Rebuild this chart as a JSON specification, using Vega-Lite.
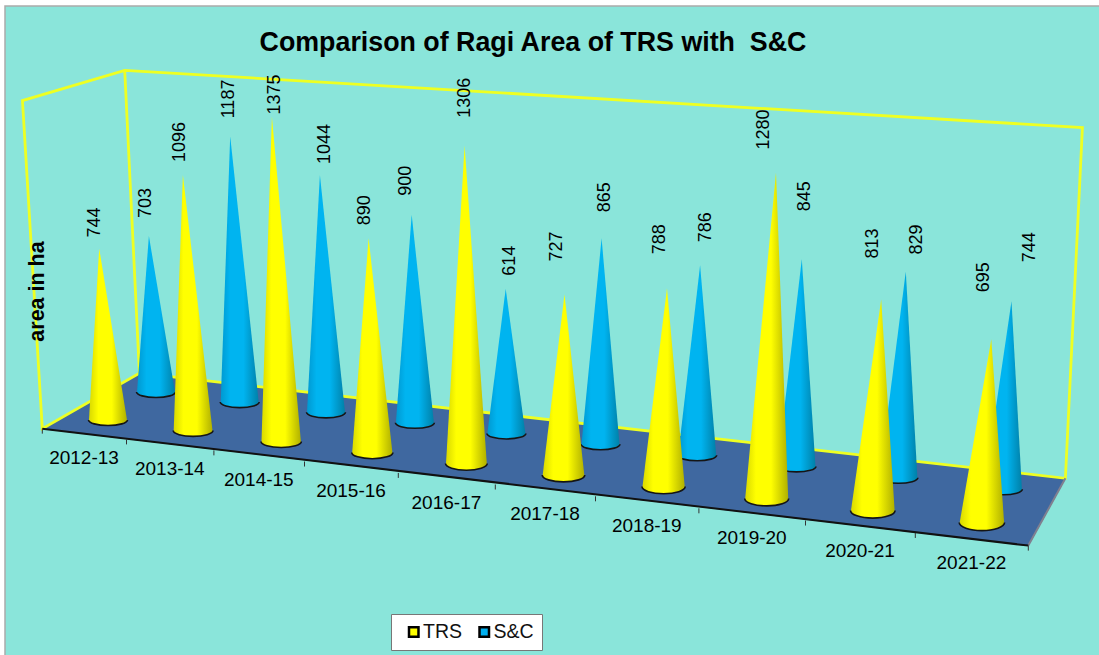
{
"$schema":"https://vega.github.io/schema/vega-lite/v6.json",
"width":1100,"height":655,"autosize":"none","padding":{"left":5,"top":6,"right":0,"bottom":0},
"background":"white",
"view":{"fill":"#8AE5DA","stroke":"#aaaaaa","strokeWidth":1.5},
"config":{"font":"Liberation Sans","axisY":{"domain":false,"ticks":false,"labels":false,"grid":false}},
"title":{"text":"Comparison of Ragi Area of TRS with\u00a0 S&C","anchor":"middle","frame":"group","dx":-22,"orient":"top","offset":-72,"baseline":"alphabetic","fontSize":26.8,"fontWeight":"bold","color":"black","font":"Liberation Sans"},
"datasets":{
"cones":[
{"year":"2012-13","series":"TRS","area":744},{"year":"2013-14","series":"TRS","area":1096},{"year":"2014-15","series":"TRS","area":1375},{"year":"2015-16","series":"TRS","area":890},{"year":"2016-17","series":"TRS","area":1306},{"year":"2017-18","series":"TRS","area":727},{"year":"2018-19","series":"TRS","area":788},{"year":"2019-20","series":"TRS","area":1280},{"year":"2020-21","series":"TRS","area":813},{"year":"2021-22","series":"TRS","area":695},
{"year":"2012-13","series":"S&C","area":703},{"year":"2013-14","series":"S&C","area":1187},{"year":"2014-15","series":"S&C","area":1044},{"year":"2015-16","series":"S&C","area":900},{"year":"2016-17","series":"S&C","area":614},{"year":"2017-18","series":"S&C","area":865},{"year":"2018-19","series":"S&C","area":786},{"year":"2019-20","series":"S&C","area":845},{"year":"2020-21","series":"S&C","area":829},{"year":"2021-22","series":"S&C","area":744}
],
"frame":[
{"part":"floor","n":0,"i":-0.5,"d":-0.5,"h":0},{"part":"floor","n":1,"i":9.5,"d":-0.5,"h":0},{"part":"floor","n":2,"i":9.5,"d":1.5,"h":0},{"part":"floor","n":3,"i":-0.5,"d":1.5,"h":0},
{"part":"wall","n":0,"i":-0.5,"d":1.5,"h":1422},{"part":"wall","n":1,"i":-0.5,"d":1.5,"h":0},{"part":"wall","n":2,"i":-0.5,"d":-0.5,"h":0},{"part":"wall","n":3,"i":-0.5,"d":-0.5,"h":1422},{"part":"wall","n":4,"i":-0.5,"d":1.5,"h":1422},{"part":"wall","n":5,"i":9.5,"d":1.5,"h":1422},{"part":"wall","n":6,"i":9.5,"d":1.5,"h":0},{"part":"wall","n":7,"i":-0.5,"d":1.5,"h":0},
{"part":"front","n":0,"i":-0.5,"d":-0.5,"h":0},{"part":"front","n":1,"i":9.5,"d":-0.5,"h":0},
{"part":"side","n":0,"i":9.5,"d":-0.5,"h":0},{"part":"side","n":1,"i":9.5,"d":1.5,"h":0},
{"part":"tick","n":0,"i":-0.5,"d":-0.5,"h":0},{"part":"tick","n":1,"i":0.5,"d":-0.5,"h":0},{"part":"tick","n":2,"i":1.5,"d":-0.5,"h":0},{"part":"tick","n":3,"i":2.5,"d":-0.5,"h":0},{"part":"tick","n":4,"i":3.5,"d":-0.5,"h":0},{"part":"tick","n":5,"i":4.5,"d":-0.5,"h":0},{"part":"tick","n":6,"i":5.5,"d":-0.5,"h":0},{"part":"tick","n":7,"i":6.5,"d":-0.5,"h":0},{"part":"tick","n":8,"i":7.5,"d":-0.5,"h":0},{"part":"tick","n":9,"i":8.5,"d":-0.5,"h":0},{"part":"tick","n":10,"i":9.5,"d":-0.5,"h":0}
]
},
"encoding":{
"x":{"field":"X","type":"quantitative","scale":{"domain":[5,1105],"nice":false,"zero":false},"axis":null},
"y":{"field":"Y","type":"quantitative","scale":{"domain":[661,6],"nice":false,"zero":false},"axis":{"title":"area in ha","zindex":1,"titleX":32,"titleY":285,"titleAngle":270,"titleFontSize":21.5,"titleFontWeight":"bold","titleColor":"black","titleAlign":"center","titleBaseline":"middle"}}
},
"layer":[
{"data":{"name":"frame"},
"transform":[
{"calculate":"108+48*datum.d+(83.6-1.2*datum.d)*datum.i+(1.5-0.2*datum.d)*datum.i*datum.i","as":"X0"},
{"calculate":"420-28*datum.d+(10.5-0.5*datum.d)*datum.i+(0.1-0.01*datum.d)*datum.i*datum.i","as":"Y0"},
{"calculate":"(0.219+(datum.Y0-392)*0.00032)*datum.h","as":"px"},
{"calculate":"datum.X0+(datum.i-4.5)*(0.0115-0.0012*datum.d)*datum.px","as":"X"},
{"calculate":"datum.Y0-datum.px","as":"Y"},
{"calculate":"datum.Y0+5","as":"Yt"}],
"layer":[
{"transform":[{"filter":"datum.part=='floor'"}],"mark":{"type":"line","fill":"#3F68A0","stroke":"#3F68A0","strokeWidth":1},"encoding":{"order":{"field":"n"}}},
{"transform":[{"filter":"datum.part=='wall'"}],"mark":{"type":"line","stroke":"#EEFF22","strokeWidth":2.8,"strokeJoin":"miter"},"encoding":{"order":{"field":"n"}}},
{"transform":[{"filter":"datum.part=='side'"}],"mark":{"type":"line","stroke":"#808090","strokeWidth":2},"encoding":{"order":{"field":"n"}}},
{"transform":[{"filter":"datum.part=='front'"}],"mark":{"type":"line","stroke":"#111111","strokeWidth":2},"encoding":{"order":{"field":"n"}}},
{"transform":[{"filter":"datum.part=='tick'"}],"mark":{"type":"rule","stroke":"#333333","strokeWidth":1},"encoding":{"y2":{"field":"Yt"}}}
]},
{"data":{"name":"cones"},
"transform":[
{"calculate":"indexof(['2012-13','2013-14','2014-15','2015-16','2016-17','2017-18','2018-19','2019-20','2020-21','2021-22'],datum.year)","as":"i"},
{"calculate":"datum.series=='TRS'?0:1","as":"d"},
{"calculate":"108+48*datum.d+(83.6-1.2*datum.d)*datum.i+(1.5-0.2*datum.d)*datum.i*datum.i","as":"X0"},
{"calculate":"420-28*datum.d+(10.5-0.5*datum.d)*datum.i+(0.1-0.01*datum.d)*datum.i*datum.i","as":"Y0"},
{"calculate":"(0.219+(datum.Y0-392)*0.00032)*datum.area","as":"px"},
{"calculate":"datum.X0+(datum.i-4.5)*(0.0115-0.0012*datum.d)*datum.px","as":"X"},
{"calculate":"datum.Y0-datum.px","as":"Y"},
{"calculate":"round(190+(1-datum.d)*datum.i*3.5)/10","as":"w"},
{"calculate":"round(55+(1-datum.d)*datum.i*2.8)/10","as":"e"},
{"calculate":"'M'+(-datum.w)+',0L'+round((datum.X-datum.X0)*10)/10+','+round((-datum.px-2)*10)/10+'L'+datum.w+',0A'+datum.w+','+datum.e+' 0 0 1 '+(-datum.w)+',0Z'","as":"conePath"},
{"calculate":"'M'+(-datum.w-0.5)+',0A'+(datum.w+0.5)+','+datum.e+' 0 0 0 '+(datum.w+0.5)+',0'","as":"arcPath"},
{"calculate":"84+84.2*datum.i+1.6*datum.i*datum.i","as":"yearX"},
{"calculate":"434+10.75*datum.i+0.105*datum.i*datum.i","as":"yearY"},
{"calculate":"(datum.d==0?[13,15,4,15,30,35,36,25,43,49]:[20,20,13,21,15,28,25,50,19,41])[datum.i]","as":"gap"},
{"calculate":"(datum.d==0?[-4,-3,3,-4,0,-8,-7,-12,-8,-7]:[-3,-1,5,-6,4,3,6,3,11,18])[datum.i]","as":"shift"},
{"calculate":"datum.X+datum.shift","as":"labelX"},
{"calculate":"datum.Y-datum.gap","as":"labelY"}
],
"layer":[
{"mark":{"type":"point","filled":true,"opacity":0,"size":90,"shape":"square"},
"encoding":{"x":{"field":"X0","type":"quantitative","axis":null},"y":{"field":"Y0","type":"quantitative"},
"color":{"field":"series","type":"nominal","scale":{"domain":["TRS","S&C"],"range":["#FFFF00","#00B0F0"]},
"legend":{"title":null,"orient":"none","legendX":386,"legendY":608,"direction":"horizontal","fillColor":"white","strokeColor":"#777777","padding":8,"labelFontSize":19.5,"labelColor":"#111111","labelOffset":-0.5,"symbolOffset":5,"symbolType":"square","symbolSize":90,"symbolStrokeColor":"black","symbolStrokeWidth":2.5,"symbolOpacity":1,"columnPadding":7.5}}}},
{"transform":[{"filter":"datum.series=='S&C'"}],"mark":{"type":"point","filled":true,"opacity":1,"size":4,"fill":{"gradient":"linear","x1":0,"x2":1,"y1":0,"y2":0,"stops":[{"offset":0,"color":"#0098d0"},{"offset":0.25,"color":"#00b4f0"},{"offset":0.6,"color":"#00b4f0"},{"offset":1,"color":"#0080a8"}]}},
"encoding":{"x":{"field":"X0","type":"quantitative","axis":null},"y":{"field":"Y0","type":"quantitative"},
"shape":{"field":"conePath","type":"nominal","scale":null}}},
{"transform":[{"filter":"datum.series=='S&C'"}],"mark":{"type":"point","filled":false,"opacity":1,"size":4,"stroke":"#151515","strokeWidth":1.6},
"encoding":{"x":{"field":"X0","type":"quantitative","axis":null},"y":{"field":"Y0","type":"quantitative"},"shape":{"field":"arcPath","type":"nominal","scale":null}}},
{"transform":[{"filter":"datum.series=='TRS'"}],"mark":{"type":"point","filled":true,"opacity":1,"size":4,"fill":{"gradient":"linear","x1":0,"x2":1,"y1":0,"y2":0,"stops":[{"offset":0,"color":"#d9d900"},{"offset":0.25,"color":"#ffff00"},{"offset":0.6,"color":"#ffff00"},{"offset":1,"color":"#b0b000"}]}},
"encoding":{"x":{"field":"X0","type":"quantitative","axis":null},"y":{"field":"Y0","type":"quantitative"},
"shape":{"field":"conePath","type":"nominal","scale":null}}},
{"transform":[{"filter":"datum.series=='TRS'"}],"mark":{"type":"point","filled":false,"opacity":1,"size":4,"stroke":"#151515","strokeWidth":1.6},
"encoding":{"x":{"field":"X0","type":"quantitative","axis":null},"y":{"field":"Y0","type":"quantitative"},"shape":{"field":"arcPath","type":"nominal","scale":null}}},
{"mark":{"type":"text","angle":270,"align":"left","baseline":"middle","fontSize":18,"color":"black"},
"encoding":{"x":{"field":"labelX","type":"quantitative","axis":null},"y":{"field":"labelY","type":"quantitative"},"text":{"field":"area","type":"quantitative"}}},
{"transform":[{"filter":"datum.series=='TRS'"}],"mark":{"type":"text","align":"center","baseline":"middle","fontSize":19,"color":"black","dy":24},
"encoding":{"x":{"field":"yearX","type":"quantitative","axis":null},"y":{"field":"yearY","type":"quantitative"},"text":{"field":"year","type":"nominal"}}}
]}
]
}
